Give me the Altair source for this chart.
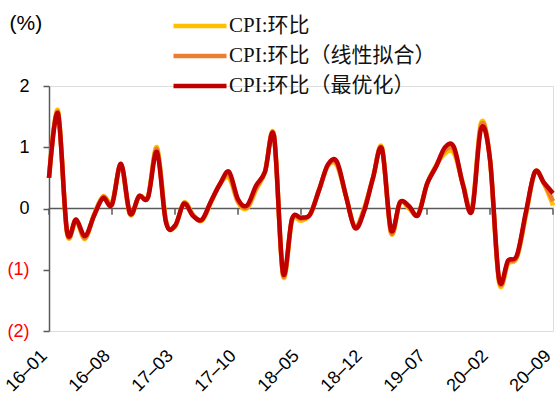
import altair as alt
import pandas as pd

# Monthly CPI month-on-month change (%), 2016-01 .. 2020-09
months = [f"{y % 100:02d}–{m:02d}" for y in range(2016, 2021) for m in range(1, 13)][:57]

cpi_mom = [
    0.5, 1.6, -0.4, -0.2, -0.5, -0.1, 0.2, 0.1, 0.7, -0.1, 0.2, 0.2,
    1.0, -0.2, -0.3, 0.1, -0.1, -0.2, 0.1, 0.4, 0.5, 0.1, 0.0, 0.3,
    0.6, 1.2, -1.1, -0.2, -0.2, -0.1, 0.3, 0.7, 0.7, 0.2, -0.3, 0.0,
    0.5, 1.0, -0.4, 0.1, 0.0, -0.1, 0.4, 0.7, 0.9, 0.9, 0.4, 0.0,
    1.4, 0.8, -1.2, -0.9, -0.8, -0.1, 0.6, 0.4, 0.05,
]
cpi_linear = [
    0.5, 1.57, -0.39, -0.19, -0.48, -0.11, 0.19, 0.08, 0.72, -0.09, 0.2, 0.19,
    0.97, -0.21, -0.29, 0.09, -0.11, -0.19, 0.11, 0.4, 0.55, 0.12, 0.02, 0.33,
    0.6, 1.19, -1.08, -0.18, -0.17, -0.1, 0.3, 0.71, 0.73, 0.2, -0.31, -0.02,
    0.5, 0.98, -0.39, 0.1, 0.02, -0.1, 0.4, 0.69, 0.95, 0.95, 0.39, -0.02,
    1.36, 0.8, -1.17, -0.88, -0.78, -0.08, 0.6, 0.41, 0.12,
]
cpi_optimal = [
    0.5, 1.55, -0.37, -0.18, -0.45, -0.12, 0.17, 0.06, 0.73, -0.08, 0.2, 0.18,
    0.92, -0.23, -0.28, 0.08, -0.12, -0.18, 0.12, 0.4, 0.6, 0.15, 0.05, 0.37,
    0.6, 1.18, -1.05, -0.17, -0.15, -0.1, 0.3, 0.72, 0.76, 0.2, -0.32, -0.05,
    0.5, 0.97, -0.35, 0.1, 0.04, -0.11, 0.4, 0.68, 1.0, 1.0, 0.38, -0.04,
    1.3, 0.8, -1.15, -0.85, -0.76, -0.05, 0.6, 0.42, 0.25,
]

series_names = ["CPI:环比", "CPI:环比（线性拟合）", "CPI:环比（最优化）"]
series_colors = ["#FFC000", "#ED7D31", "#C00000"]
tick_months = months[::7]

long_df = pd.DataFrame({
    "month": months * 3,
    "value": cpi_mom + cpi_linear + cpi_optimal,
    "series": [series_names[0]] * 57 + [series_names[1]] * 57 + [series_names[2]] * 57,
})
ticks_df = pd.DataFrame({"month": tick_months})

axis_grey = "#595959"
sans = "Liberation Sans"

x_enc = alt.X(
    "month:O",
    sort=months,
    scale=alt.Scale(type="point", padding=0),
    axis=alt.Axis(
        title=None, values=tick_months, domain=False, ticks=False, grid=False,
        labelAngle=-45, labelAlign="right", labelBaseline="middle",
        labelFont=sans, labelFontSize=18, labelColor="black", labelPadding=22,
        labelOffset=-5,
    ),
)
y_scale = alt.Scale(domain=[-2, 2], nice=False, zero=False)
y_axis = alt.Axis(
    title="(%)", titleAngle=0, titleAlign="left", titleBaseline="middle",
    titleX=-40, titleY=-63, titleFont=sans, titleFontSize=21,
    titleFontWeight="normal", titleColor="black",
    values=[-2, -1, 0, 1, 2], grid=False,
    domain=True, domainColor=axis_grey, domainWidth=1.5,
    ticks=True, tickSize=6, tickColor=axis_grey, tickWidth=1.5,
    labelFont=sans, labelFontSize=18, labelPadding=14,
    labelExpr="datum.value < 0 ? '(' + abs(datum.value) + ')' : datum.value + '\u00a0'",
    labelColor={"expr": "datum.value < 0 ? '#FF0000' : '#000000'"},
)

color_enc = alt.Color(
    "series:N",
    scale=alt.Scale(domain=series_names, range=series_colors),
    legend=alt.Legend(
        title=None, orient="none", legendX=138, legendY=-73, direction="vertical",
        symbolType="M-2.5,0H2.5", symbolSize=450, symbolStrokeWidth=4.5,
        labelFont="Liberation Serif, Noto Sans CJK SC", labelFontSize=21,
        labelColor="#111111", labelLimit=600, labelOffset=16, rowPadding=7, padding=0,
    ),
)

zero_line = alt.Chart(pd.DataFrame({"v": [0]})).mark_rule(
    color=axis_grey, strokeWidth=1.5
).encode(y=alt.Y("v:Q", scale=y_scale, axis=y_axis))

x_ticks = alt.Chart(ticks_df).mark_rule(color=axis_grey, strokeWidth=1.5).encode(
    x=alt.X("month:O", sort=months, scale=alt.Scale(type="point", padding=0)),
    y=alt.datum(0),
    y2=alt.datum(-0.1),
)

def series_line(name):
    return alt.Chart(long_df).transform_filter(
        alt.datum.series == name
    ).mark_line(interpolate="cardinal", strokeWidth=4.5).encode(
        x=x_enc,
        y=alt.Y("value:Q", scale=y_scale, axis=y_axis),
        color=color_enc,
    )

chart = alt.layer(
    zero_line, x_ticks, *[series_line(n) for n in series_names]
).properties(
    width=504,
    height=245,
    padding={"left": 49, "top": 86, "right": 2, "bottom": 63},
    autosize=alt.AutoSizeParams(type="none"),
).configure_view(stroke=None).configure(background="white")

chart.save("out.html", embed_options={"renderer": "svg", "actions": False})
